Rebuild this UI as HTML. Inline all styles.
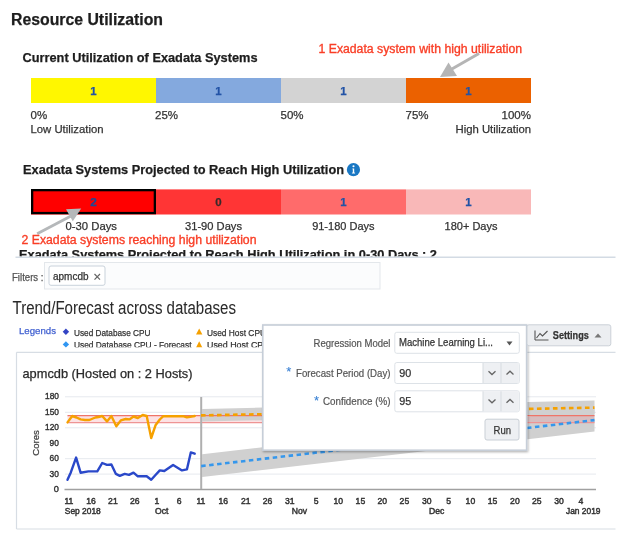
<!DOCTYPE html>
<html><head><meta charset="utf-8"><style>
html,body{margin:0;padding:0;background:#fff;width:624px;height:535px;overflow:hidden}
svg{display:block;font-family:"Liberation Sans", sans-serif;filter:blur(0.35px)}
</style></head><body>
<svg width="624" height="535" viewBox="0 0 624 535">
<rect width="624" height="535" fill="#fff"/>
<text x="11" y="25" font-size="16" fill="#1d1d1d" font-weight="bold" text-anchor="start" textLength="152" lengthAdjust="spacingAndGlyphs" stroke="#1d1d1d" stroke-width="0.25" >Resource Utilization</text>
<text x="22.5" y="62.3" font-size="12.8" fill="#1d1d1d" font-weight="bold" text-anchor="start" textLength="235" lengthAdjust="spacingAndGlyphs" stroke="#1d1d1d" stroke-width="0.25" >Current Utilization of Exadata Systems</text>
<text x="318.5" y="53.4" font-size="12.3" fill="#f93e26" font-weight="normal" text-anchor="start" textLength="203.5" lengthAdjust="spacingAndGlyphs" stroke="#f93e26" stroke-width="0.35" >1 Exadata system with high utilization</text>
<rect x="31" y="78" width="125" height="25" fill="#fff700" />
<rect x="156" y="78" width="125" height="25" fill="#84a9de" />
<rect x="281" y="78" width="125" height="25" fill="#d3d3d3" />
<rect x="406" y="78" width="125" height="25" fill="#eb6100" />
<text x="93.5" y="94.5" font-size="11.5" fill="#2253a6" font-weight="bold" text-anchor="middle" stroke="#2253a6" stroke-width="0.25" >1</text>
<text x="218.5" y="94.5" font-size="11.5" fill="#2253a6" font-weight="bold" text-anchor="middle" stroke="#2253a6" stroke-width="0.25" >1</text>
<text x="343.5" y="94.5" font-size="11.5" fill="#2253a6" font-weight="bold" text-anchor="middle" stroke="#2253a6" stroke-width="0.25" >1</text>
<text x="468.5" y="94.5" font-size="11.5" fill="#2253a6" font-weight="bold" text-anchor="middle" stroke="#2253a6" stroke-width="0.25" >1</text>
<text x="30.5" y="119" font-size="11.5" fill="#333" font-weight="normal" text-anchor="start" stroke="#333" stroke-width="0.25" >0%</text>
<text x="155" y="119" font-size="11.5" fill="#333" font-weight="normal" text-anchor="start" stroke="#333" stroke-width="0.25" >25%</text>
<text x="280.5" y="119" font-size="11.5" fill="#333" font-weight="normal" text-anchor="start" stroke="#333" stroke-width="0.25" >50%</text>
<text x="405.5" y="119" font-size="11.5" fill="#333" font-weight="normal" text-anchor="start" stroke="#333" stroke-width="0.25" >75%</text>
<text x="531" y="119" font-size="11.5" fill="#333" font-weight="normal" text-anchor="end" stroke="#333" stroke-width="0.25" >100%</text>
<text x="30.5" y="133.3" font-size="11.5" fill="#333" font-weight="normal" text-anchor="start" textLength="73" lengthAdjust="spacingAndGlyphs" stroke="#333" stroke-width="0.25" >Low Utilization</text>
<text x="531" y="133.3" font-size="11.5" fill="#333" font-weight="normal" text-anchor="end" textLength="75.5" lengthAdjust="spacingAndGlyphs" stroke="#333" stroke-width="0.25" >High Utilization</text>
<line x1="479" y1="53.5" x2="451" y2="69.5" stroke="#b5b5b5" stroke-width="3" />
<path d="M440,77 L448.5,62.5 L457,76 Z" fill="#b5b5b5" stroke="none" stroke-width="1" />
<text x="23" y="173.8" font-size="12.8" fill="#1d1d1d" font-weight="bold" text-anchor="start" textLength="321" lengthAdjust="spacingAndGlyphs" stroke="#1d1d1d" stroke-width="0.25" >Exadata Systems Projected to Reach High Utilization</text>
<circle cx="353.45" cy="169.7" r="6.6" fill="#1a78c4"/>
<circle cx="353.5" cy="166.2" r="1.05" fill="#fff"/>
<path d="M352.5,168.4 L354.2,168.4 L354.2,172.6 L355.1,172.8 L355.1,173.5 L351.9,173.5 L351.9,172.8 L352.8,172.6 L352.8,169.3 L352.3,169.2 Z" fill="#fff" stroke="none" stroke-width="1" />
<rect x="31" y="189.4" width="125" height="25.1" fill="#ff0000" />
<rect x="156" y="189.4" width="125" height="25.1" fill="#ff3535" />
<rect x="281" y="189.4" width="125" height="25.1" fill="#ff6b6b" />
<rect x="406" y="189.4" width="125" height="25.1" fill="#f9b8b8" />
<rect x="32.15" y="190.15" width="122.7" height="22.9" fill="none" stroke="#000" stroke-width="2.3"/>
<text x="93.5" y="205.8" font-size="11.8" fill="#1d4898" font-weight="bold" text-anchor="middle" stroke="#1d4898" stroke-width="0.25" >2</text>
<text x="218.5" y="205.8" font-size="11.5" fill="#3a2a2a" font-weight="bold" text-anchor="middle" stroke="#3a2a2a" stroke-width="0.25" >0</text>
<text x="343.5" y="205.8" font-size="11.5" fill="#2253a6" font-weight="bold" text-anchor="middle" stroke="#2253a6" stroke-width="0.25" >1</text>
<text x="468.5" y="205.8" font-size="11.5" fill="#2253a6" font-weight="bold" text-anchor="middle" stroke="#2253a6" stroke-width="0.25" >1</text>
<text x="65.5" y="229.8" font-size="11" fill="#333" font-weight="normal" text-anchor="start" textLength="51.5" lengthAdjust="spacingAndGlyphs" stroke="#333" stroke-width="0.25" >0-30 Days</text>
<text x="185" y="229.8" font-size="11" fill="#333" font-weight="normal" text-anchor="start" textLength="57" lengthAdjust="spacingAndGlyphs" stroke="#333" stroke-width="0.25" >31-90 Days</text>
<text x="374.5" y="229.8" font-size="11" fill="#333" font-weight="normal" text-anchor="end" stroke="#333" stroke-width="0.25" >91-180 Days</text>
<text x="497.5" y="229.8" font-size="11" fill="#333" font-weight="normal" text-anchor="end" stroke="#333" stroke-width="0.25" >180+ Days</text>
<line x1="37.2" y1="233.7" x2="70.5" y2="216.2" stroke="#b5b8ba" stroke-width="2.9" />
<path d="M81.2,208.4 L66,209.3 L72.8,221.3 Z" fill="#b5b8ba" stroke="none" stroke-width="1" />
<text x="21.5" y="243.5" font-size="12.3" fill="#f93e26" font-weight="normal" text-anchor="start" textLength="235" lengthAdjust="spacingAndGlyphs" stroke="#f93e26" stroke-width="0.35" >2 Exadata systems reaching high utilization</text>
<clipPath id="c1"><rect x="0" y="245" width="624" height="11.6"/></clipPath>
<text x="19" y="259.0" font-size="12.8" fill="#1d1d1d" font-weight="bold" text-anchor="start" textLength="418" lengthAdjust="spacingAndGlyphs" stroke="#1d1d1d" stroke-width="0.25" clip-path="url(#c1)">Exadata Systems Projected to Reach High Utilization in 0-30 Days : 2</text>
<line x1="15.5" y1="257.3" x2="615.5" y2="257.3" stroke="#d3dbe4" stroke-width="1.5" />
<text x="12" y="280.5" font-size="10" fill="#555" font-weight="normal" text-anchor="start" textLength="31.5" lengthAdjust="spacingAndGlyphs" stroke="#555" stroke-width="0.25" >Filters :</text>
<rect x="44.5" y="262.5" width="335.5" height="26.5" fill="#fbfcfd" stroke="#e3e7eb" stroke-width="1"/>
<rect x="49" y="266" width="56" height="19.3" fill="#ffffff" stroke="#c9d2db" stroke-width="1" rx="2"/>
<text x="53" y="280.2" font-size="10" fill="#333" font-weight="normal" text-anchor="start" textLength="35.5" lengthAdjust="spacingAndGlyphs" stroke="#333" stroke-width="0.25" >apmcdb</text>
<path d="M94.5,274 L100,279.7 M100,274 L94.5,279.7" fill="none" stroke="#666" stroke-width="1.2" />
<text x="12.5" y="313.8" font-size="17.5" fill="#2a2a2a" font-weight="normal" text-anchor="start" textLength="223.5" lengthAdjust="spacingAndGlyphs" stroke="#2a2a2a" stroke-width="0.05" >Trend/Forecast across databases</text>
<text x="19" y="334.2" font-size="9.8" fill="#3f5fd0" font-weight="normal" text-anchor="start" textLength="37" lengthAdjust="spacingAndGlyphs" stroke="#3f5fd0" stroke-width="0.25" >Legends</text>
<path d="M65.9,328.5 L69.1,331.75 L65.9,335 L62.7,331.75 Z" fill="#3344c4" stroke="none" stroke-width="1" />
<text x="74" y="335.5" font-size="9.4" fill="#333" font-weight="normal" text-anchor="start" textLength="76.5" lengthAdjust="spacingAndGlyphs" stroke="#333" stroke-width="0.25" >Used Database CPU</text>
<path d="M65.9,341.2 L69.1,344.4 L65.9,347.6 L62.7,344.4 Z" fill="#3096f2" stroke="none" stroke-width="1" />
<clipPath id="c2"><rect x="0" y="336" width="624" height="11.3"/></clipPath>
<text x="74" y="348.3" font-size="9.7" fill="#333" font-weight="normal" text-anchor="start" textLength="117.5" lengthAdjust="spacingAndGlyphs" stroke="#333" stroke-width="0.25" clip-path="url(#c2)">Used Database CPU - Forecast</text>
<path d="M199.2,328.5 L202.4,334.5 L196,334.5 Z" fill="#f5a000" stroke="none" stroke-width="1" />
<path d="M199.2,341.2 L202.6,348 L195.8,348 Z" fill="#f5a000" stroke="none" stroke-width="1" clip-path="url(#c2)"/>
<clipPath id="c3"><rect x="0" y="0" width="262" height="535"/></clipPath>
<text x="207" y="335.5" font-size="9.4" fill="#333" font-weight="normal" text-anchor="start" textLength="59" lengthAdjust="spacingAndGlyphs" stroke="#333" stroke-width="0.25" clip-path="url(#c3)">Used Host CPU</text>
<g clip-path="url(#c2)">
<text x="207" y="348.3" font-size="9.7" fill="#333" font-weight="normal" text-anchor="start" textLength="105" lengthAdjust="spacingAndGlyphs" stroke="#333" stroke-width="0.25" clip-path="url(#c3)">Used Host CPU - Forecast</text>
</g>
<line x1="16.5" y1="352.3" x2="615.5" y2="352.3" stroke="#d7dde4" stroke-width="1.2" />
<line x1="16.5" y1="352.3" x2="16.5" y2="529" stroke="#d7dde4" stroke-width="1.2" />
<line x1="16.5" y1="529" x2="615.5" y2="529" stroke="#d7dde4" stroke-width="1.2" />
<text x="22.5" y="377.8" font-size="12.6" fill="#2a2a2a" font-weight="normal" text-anchor="start" textLength="170" lengthAdjust="spacingAndGlyphs" stroke="#2a2a2a" stroke-width="0.25" >apmcdb (Hosted on : 2 Hosts)</text>
<text x="58.9" y="399.40000000000003" font-size="9.2" fill="#333" font-weight="normal" text-anchor="end" textLength="13.9" lengthAdjust="spacingAndGlyphs" stroke="#333" stroke-width="0.4" >180</text>
<text x="58.9" y="414.90000000000003" font-size="9.2" fill="#333" font-weight="normal" text-anchor="end" textLength="13.9" lengthAdjust="spacingAndGlyphs" stroke="#333" stroke-width="0.4" >150</text>
<text x="58.9" y="430.40000000000003" font-size="9.2" fill="#333" font-weight="normal" text-anchor="end" textLength="13.9" lengthAdjust="spacingAndGlyphs" stroke="#333" stroke-width="0.4" >120</text>
<text x="58.9" y="445.8" font-size="9.2" fill="#333" font-weight="normal" text-anchor="end" textLength="9.3" lengthAdjust="spacingAndGlyphs" stroke="#333" stroke-width="0.4" >90</text>
<text x="58.9" y="461.3" font-size="9.2" fill="#333" font-weight="normal" text-anchor="end" textLength="9.3" lengthAdjust="spacingAndGlyphs" stroke="#333" stroke-width="0.4" >60</text>
<text x="58.9" y="476.70000000000005" font-size="9.2" fill="#333" font-weight="normal" text-anchor="end" textLength="9.3" lengthAdjust="spacingAndGlyphs" stroke="#333" stroke-width="0.4" >30</text>
<text x="58.9" y="492.20000000000005" font-size="9.2" fill="#333" font-weight="normal" text-anchor="end" stroke="#333" stroke-width="0.4" >0</text>
<line x1="65" y1="396.8" x2="596" y2="396.8" stroke="#e6e9ee" stroke-width="1" />
<line x1="65" y1="412.3" x2="596" y2="412.3" stroke="#e6e9ee" stroke-width="1" />
<line x1="65" y1="427.8" x2="596" y2="427.8" stroke="#e6e9ee" stroke-width="1" />
<line x1="65" y1="458.7" x2="596" y2="458.7" stroke="#e6e9ee" stroke-width="1" />
<line x1="65" y1="474.1" x2="596" y2="474.1" stroke="#e6e9ee" stroke-width="1" />
<text x="0" y="0" font-size="9.6" fill="#444" font-weight="normal" text-anchor="middle" textLength="25.5" lengthAdjust="spacingAndGlyphs" stroke="#444" stroke-width="0.25" transform="translate(38.8,443) rotate(-90)">Cores</text>
<path d="M202.2,454.3 L594.5,408.8 L594.5,431.40000000000003 L202.2,477.1 Z" fill="#d0d0d0" stroke="none" stroke-width="1" />
<rect x="67.5" y="415.5" width="527" height="7.2" fill="#f07a84" fill-opacity="0.22"/>
<path d="M202.2,408.9 L594.5,400.5 L594.5,414.09999999999997 L202.2,421.4 Z" fill="#d0d0d0" stroke="none" stroke-width="1" />
<line x1="67.5" y1="415.6" x2="594.5" y2="415.6" stroke="#ef7468" stroke-width="1.4" />
<line x1="67.5" y1="422.7" x2="594.5" y2="422.7" stroke="#ee9494" stroke-width="1.2" />
<line x1="64.5" y1="489.6" x2="596" y2="489.6" stroke="#a0a0a0" stroke-width="1.5" />
<line x1="201.2" y1="397" x2="201.2" y2="489" stroke="#afafaf" stroke-width="2" />
<polyline points="67.5,422.4 72.2,416 76.5,417.5 80.6,419.4 85,420 89.4,420 95.3,417.5 98.5,417 102.2,416 107,421.4 111.4,416 116.3,426.3 120.8,420.4 125.7,419 129.6,419.4 133.5,416.5 137.8,418 142.7,415 146.7,416 151.2,438 155.5,425.3 159.8,419.5 163.3,416.2 173,416.2 183,416.2 186.9,417.4 194.7,416" fill="none" stroke="#f6a100" stroke-width="2.4" stroke-linejoin="round" stroke-linecap="round" />
<polyline points="67.5,479.8 70.8,472.4 76.1,457.6 80.6,472.7 88.4,471.4 97.3,471.4 102.2,463 107,464.9 111.4,464.5 115.9,473.9 119.8,475.9 124.7,473.9 129,474.9 133.5,472.7 137.8,476.3 146.7,476.3 151.2,479.8 155.5,475 159.8,470.4 164.3,471 173.1,464.9 182,470.4 186.9,469.4 190.8,452.4 194.7,453.7" fill="none" stroke="#2a48c9" stroke-width="2.4" stroke-linejoin="round" stroke-linecap="round" />
<line x1="201.0" y1="415.4" x2="594.5" y2="407.6" stroke="#f5a100" stroke-width="2.6" stroke-dasharray="4.6 3.4"/>
<line x1="201.2" y1="466.1" x2="594.5" y2="420.1" stroke="#3597ec" stroke-width="2.6" stroke-dasharray="4.5 3.5"/>
<text x="68.9" y="503.9" font-size="8.6" fill="#333" font-weight="normal" text-anchor="middle" stroke="#333" stroke-width="0.45" >11</text>
<text x="91" y="503.9" font-size="8.6" fill="#333" font-weight="normal" text-anchor="middle" stroke="#333" stroke-width="0.45" >16</text>
<text x="112.9" y="503.9" font-size="8.6" fill="#333" font-weight="normal" text-anchor="middle" stroke="#333" stroke-width="0.45" >21</text>
<text x="134.8" y="503.9" font-size="8.6" fill="#333" font-weight="normal" text-anchor="middle" stroke="#333" stroke-width="0.45" >26</text>
<text x="157" y="503.9" font-size="8.6" fill="#333" font-weight="normal" text-anchor="middle" stroke="#333" stroke-width="0.45" >1</text>
<text x="179.1" y="503.9" font-size="8.6" fill="#333" font-weight="normal" text-anchor="middle" stroke="#333" stroke-width="0.45" >6</text>
<text x="200.9" y="503.9" font-size="8.6" fill="#333" font-weight="normal" text-anchor="middle" stroke="#333" stroke-width="0.45" >11</text>
<text x="223.3" y="503.9" font-size="8.6" fill="#333" font-weight="normal" text-anchor="middle" stroke="#333" stroke-width="0.45" >16</text>
<text x="245.8" y="503.9" font-size="8.6" fill="#333" font-weight="normal" text-anchor="middle" stroke="#333" stroke-width="0.45" >21</text>
<text x="267.6" y="503.9" font-size="8.6" fill="#333" font-weight="normal" text-anchor="middle" stroke="#333" stroke-width="0.45" >26</text>
<text x="289.85" y="503.9" font-size="8.6" fill="#333" font-weight="normal" text-anchor="middle" stroke="#333" stroke-width="0.45" >31</text>
<text x="316.25" y="503.9" font-size="8.6" fill="#333" font-weight="normal" text-anchor="middle" stroke="#333" stroke-width="0.45" >5</text>
<text x="338.25" y="503.9" font-size="8.6" fill="#333" font-weight="normal" text-anchor="middle" stroke="#333" stroke-width="0.45" >10</text>
<text x="360.4" y="503.9" font-size="8.6" fill="#333" font-weight="normal" text-anchor="middle" stroke="#333" stroke-width="0.45" >15</text>
<text x="382.2" y="503.9" font-size="8.6" fill="#333" font-weight="normal" text-anchor="middle" stroke="#333" stroke-width="0.45" >20</text>
<text x="404.4" y="503.9" font-size="8.6" fill="#333" font-weight="normal" text-anchor="middle" stroke="#333" stroke-width="0.45" >25</text>
<text x="426.8" y="503.9" font-size="8.6" fill="#333" font-weight="normal" text-anchor="middle" stroke="#333" stroke-width="0.45" >30</text>
<text x="448.6" y="503.9" font-size="8.6" fill="#333" font-weight="normal" text-anchor="middle" stroke="#333" stroke-width="0.45" >5</text>
<text x="470.4" y="503.9" font-size="8.6" fill="#333" font-weight="normal" text-anchor="middle" stroke="#333" stroke-width="0.45" >10</text>
<text x="492.5" y="503.9" font-size="8.6" fill="#333" font-weight="normal" text-anchor="middle" stroke="#333" stroke-width="0.45" >15</text>
<text x="514.9" y="503.9" font-size="8.6" fill="#333" font-weight="normal" text-anchor="middle" stroke="#333" stroke-width="0.45" >20</text>
<text x="536.8" y="503.9" font-size="8.6" fill="#333" font-weight="normal" text-anchor="middle" stroke="#333" stroke-width="0.45" >25</text>
<text x="559.1" y="503.9" font-size="8.6" fill="#333" font-weight="normal" text-anchor="middle" stroke="#333" stroke-width="0.45" >30</text>
<text x="580.9" y="503.9" font-size="8.6" fill="#333" font-weight="normal" text-anchor="middle" stroke="#333" stroke-width="0.45" >4</text>
<text x="64.8" y="513.8" font-size="8.6" fill="#333" font-weight="normal" text-anchor="start" textLength="36" lengthAdjust="spacingAndGlyphs" stroke="#333" stroke-width="0.45" >Sep 2018</text>
<text x="155" y="513.8" font-size="8.6" fill="#333" font-weight="normal" text-anchor="start" stroke="#333" stroke-width="0.45" >Oct</text>
<text x="291.8" y="513.8" font-size="8.6" fill="#333" font-weight="normal" text-anchor="start" stroke="#333" stroke-width="0.45" >Nov</text>
<text x="429" y="513.8" font-size="8.6" fill="#333" font-weight="normal" text-anchor="start" stroke="#333" stroke-width="0.45" >Dec</text>
<text x="566" y="513.8" font-size="8.6" fill="#333" font-weight="normal" text-anchor="start" textLength="34.5" lengthAdjust="spacingAndGlyphs" stroke="#333" stroke-width="0.45" >Jan 2019</text>
<defs><filter id="sh" x="-10%" y="-10%" width="130%" height="130%"><feDropShadow dx="0.8" dy="1.2" stdDeviation="0.9" flood-color="#000" flood-opacity="0.3"/></filter></defs>
<rect x="262.8" y="325" width="263.8" height="125.2" fill="#ffffff" stroke="#c6ced8" stroke-width="1.6" filter="url(#sh)"/>
<text x="390.5" y="347.0" font-size="10.5" fill="#555" font-weight="normal" text-anchor="end" textLength="77" lengthAdjust="spacingAndGlyphs" stroke="#555" stroke-width="0.2" >Regression Model</text>
<text x="390.5" y="377.3" font-size="10.5" fill="#555" font-weight="normal" text-anchor="end" textLength="94.5" lengthAdjust="spacingAndGlyphs" stroke="#555" stroke-width="0.2" >Forecast Period (Day)</text>
<text x="390.5" y="405.3" font-size="10.5" fill="#555" font-weight="normal" text-anchor="end" textLength="67.5" lengthAdjust="spacingAndGlyphs" stroke="#555" stroke-width="0.2" >Confidence (%)</text>
<text x="286.3" y="376.1" font-size="13" fill="#3b82d4" font-weight="normal" text-anchor="start" stroke="#3b82d4" stroke-width="0.1" >*</text>
<text x="313.9" y="405.4" font-size="13" fill="#3b82d4" font-weight="normal" text-anchor="start" stroke="#3b82d4" stroke-width="0.1" >*</text>
<rect x="394.8" y="332.3" width="124.5" height="21" fill="#ffffff" stroke="#dde2e7" stroke-width="1" rx="2"/>
<text x="399" y="346.3" font-size="10.8" fill="#333" font-weight="normal" text-anchor="start" textLength="94" lengthAdjust="spacingAndGlyphs" stroke="#333" stroke-width="0.25" >Machine Learning Li...</text>
<path d="M506.5,341.5 L512.5,341.5 L509.5,345.5 Z" fill="#555" stroke="none" stroke-width="1" />
<rect x="394.8" y="362.5" width="124.5" height="21" fill="#ffffff" stroke="#dde2e7" stroke-width="1" rx="2"/>
<rect x="483" y="363.0" width="35.8" height="20" fill="#eef0f3" />
<line x1="483" y1="363.0" x2="483" y2="383.0" stroke="#d6dbe0" stroke-width="1" />
<line x1="501" y1="363.0" x2="501" y2="383.0" stroke="#d6dbe0" stroke-width="1" />
<text x="399.2" y="377.0" font-size="10.8" fill="#333" font-weight="normal" text-anchor="start" stroke="#333" stroke-width="0.25" >90</text>
<path d="M488.5,371.2 L492,374.5 L495.5,371.2" fill="none" stroke="#666" stroke-width="1.3" />
<path d="M506.5,374.5 L510,371.2 L513.5,374.5" fill="none" stroke="#666" stroke-width="1.3" />
<rect x="394.8" y="390.8" width="124.5" height="21" fill="#ffffff" stroke="#dde2e7" stroke-width="1" rx="2"/>
<rect x="483" y="391.3" width="35.8" height="20" fill="#eef0f3" />
<line x1="483" y1="391.3" x2="483" y2="411.3" stroke="#d6dbe0" stroke-width="1" />
<line x1="501" y1="391.3" x2="501" y2="411.3" stroke="#d6dbe0" stroke-width="1" />
<text x="399.2" y="405.3" font-size="10.8" fill="#333" font-weight="normal" text-anchor="start" stroke="#333" stroke-width="0.25" >95</text>
<path d="M488.5,399.5 L492,402.8 L495.5,399.5" fill="none" stroke="#666" stroke-width="1.3" />
<path d="M506.5,402.8 L510,399.5 L513.5,402.8" fill="none" stroke="#666" stroke-width="1.3" />
<rect x="485" y="419.2" width="34" height="20.8" fill="#eef0f3" stroke="#c9cfd6" stroke-width="1" rx="2"/>
<text x="493.5" y="434" font-size="10.8" fill="#333" font-weight="normal" text-anchor="start" textLength="17.5" lengthAdjust="spacingAndGlyphs" stroke="#333" stroke-width="0.25" >Run</text>
<rect x="527" y="324.8" width="83.8" height="21" fill="#eceef1" stroke="#cbd1d8" stroke-width="1" rx="2"/>
<path d="M535,340 L548.5,340 M535,330.5 L535,340 M536.5,338 L540,333.5 L542.5,336 L547.5,331" fill="none" stroke="#555" stroke-width="1.1" />
<text x="552.8" y="338.6" font-size="10" fill="#333" font-weight="bold" text-anchor="start" textLength="36" lengthAdjust="spacingAndGlyphs" stroke="#333" stroke-width="0.25" >Settings</text>
<path d="M594.5,337.5 L601.5,337.5 L598,333.5 Z" fill="#777" stroke="none" stroke-width="1" />
</svg>
</body></html>
